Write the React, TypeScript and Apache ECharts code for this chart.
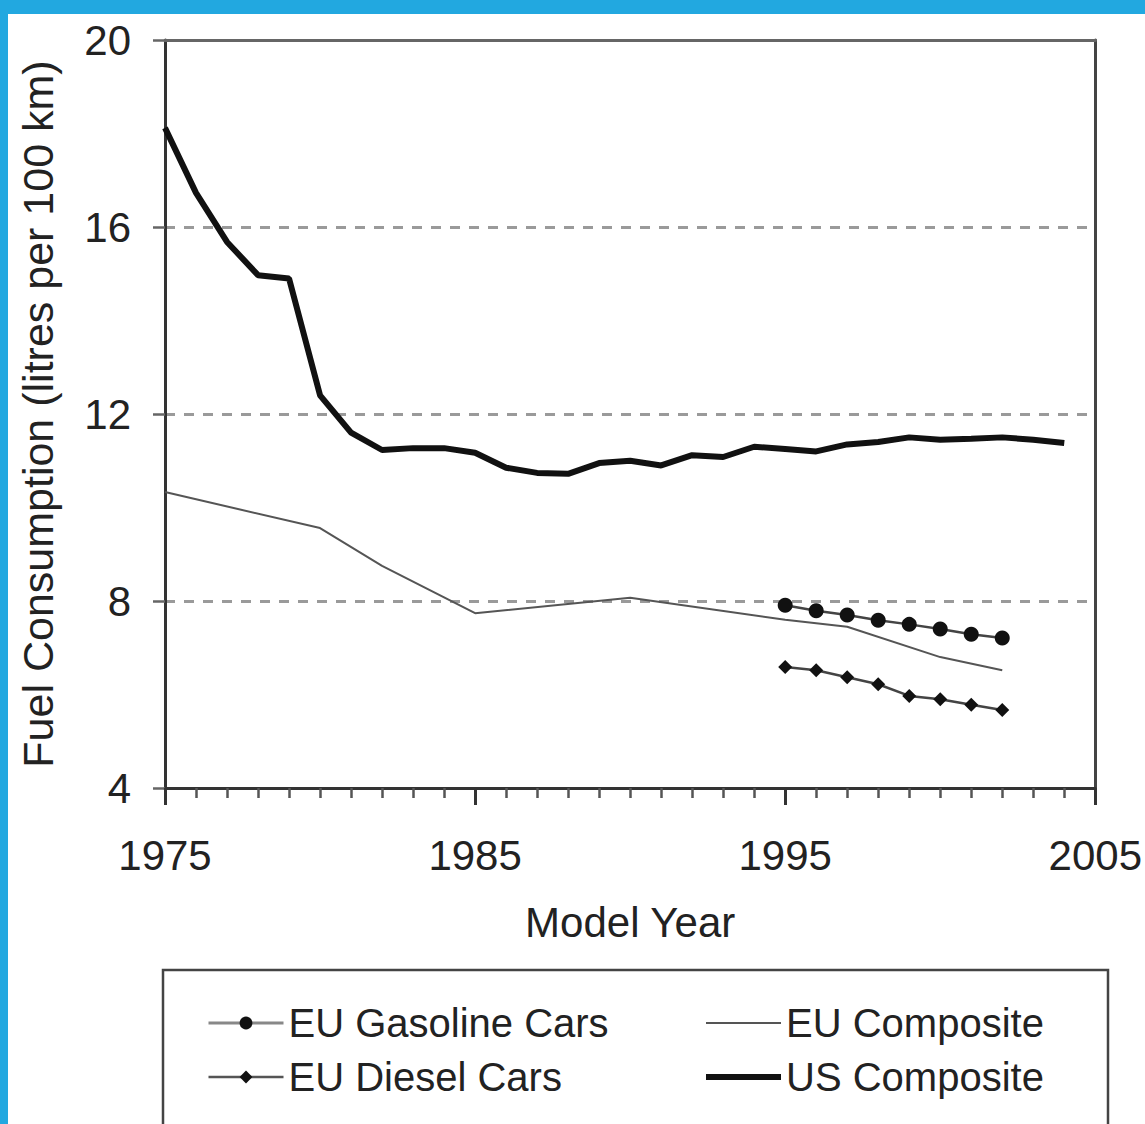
import React, { useEffect, useRef } from "react";
import * as echarts from "echarts";

const usYears = [1975, 1976, 1977, 1978, 1979, 1980, 1981, 1982, 1983, 1984, 1985, 1986, 1987, 1988, 1989, 1990, 1991, 1992, 1993, 1994, 1995, 1996, 1997, 1998, 1999, 2000, 2001, 2002, 2003, 2004];
const usValues = [18.12, 16.73, 15.68, 14.97, 14.9, 12.4, 11.6, 11.23, 11.27, 11.27, 11.17, 10.85, 10.74, 10.72, 10.95, 11.0, 10.9, 11.12, 11.08, 11.3, 11.25, 11.2, 11.35, 11.4, 11.5, 11.45, 11.47, 11.5, 11.45, 11.38];

const euCompYears = [1975, 1980, 1982, 1985, 1990, 1995, 1997, 2000, 2002];
const euCompValues = [10.33, 9.56, 8.75, 7.74, 8.07, 7.6, 7.45, 6.8, 6.52];

const euCarYears = [1995, 1996, 1997, 1998, 1999, 2000, 2001, 2002];
const gasolineValues = [7.91, 7.79, 7.7, 7.59, 7.5, 7.4, 7.29, 7.21];
const dieselValues = [6.59, 6.52, 6.37, 6.22, 5.97, 5.9, 5.78, 5.67];

const yTicks = [4, 8, 12, 16, 20];
const xTicks = [1975, 1985, 1995, 2005];

const pair = (xs: number[], ys: number[]) => xs.map((x, i) => [x, ys[i]]);

const FONT = "'Liberation Sans', Arial, sans-serif";
const TXT = "#222";

export default function App() {
  const ref = useRef<HTMLDivElement>(null);
  useEffect(() => {
    if (!ref.current) return;
    const chart = echarts.init(ref.current, undefined, { renderer: "svg" });
    const legendText = { fontSize: 40, color: TXT, fontFamily: FONT, lineHeight: 42 };
    chart.setOption({
      animation: false,
      backgroundColor: "#22a8e0",
      textStyle: { fontFamily: FONT },
      graphic: [
        { type: "rect", z: -10, shape: { x: 8, y: 14, width: 1137, height: 1110 }, style: { fill: "#fff" } },
        { type: "rect", z: 1, shape: { x: 163, y: 970, width: 945, height: 170 }, style: { fill: "none", stroke: "#444", lineWidth: 2.5 } },
      ],
      grid: { left: 165, top: 40, right: 47, bottom: 336, containLabel: false },
      xAxis: [
        {
          type: "value",
          min: xTicks[0],
          max: xTicks[xTicks.length - 1],
          interval: 10,
          name: "Model Year",
          nameLocation: "middle",
          nameGap: 113,
          nameTextStyle: { fontSize: 42, color: TXT, fontFamily: FONT },
          axisLine: { show: true, onZero: false, lineStyle: { color: "#333", width: 3 } },
          axisTick: { show: true, length: 17, lineStyle: { color: "#333", width: 3 } },
          minorTick: { show: true, splitNumber: 10, length: 10, lineStyle: { color: "#555", width: 2.5 } },
          axisLabel: { fontSize: 42, color: TXT, margin: 46, fontFamily: FONT, formatter: (v: number) => String(v) },
          splitLine: { show: false },
        },
        {
          type: "value",
          position: "top",
          min: xTicks[0],
          max: xTicks[xTicks.length - 1],
          interval: 10,
          axisLine: { show: true, lineStyle: { color: "#666", width: 3 } },
          axisTick: { show: false },
          axisLabel: { show: false },
          splitLine: { show: false },
        },
      ],
      yAxis: [
        {
          type: "value",
          min: yTicks[0],
          max: yTicks[yTicks.length - 1],
          interval: 4,
          name: "Fuel Consumption (litres per 100 km)",
          nameLocation: "middle",
          nameGap: 106,
          nameTextStyle: { fontSize: 43, color: TXT, fontFamily: FONT },
          axisLine: { show: true, lineStyle: { color: "#333", width: 3 } },
          axisTick: { show: true, length: 12, lineStyle: { color: "#666", width: 2.5 } },
          axisLabel: { fontSize: 42, color: TXT, margin: 34, fontFamily: FONT },
          splitLine: { show: true, lineStyle: { color: "#9a9a9a", width: 3, type: [10, 9] } },
        },
        {
          type: "value",
          position: "right",
          min: yTicks[0],
          max: yTicks[yTicks.length - 1],
          interval: 4,
          axisLine: { show: true, lineStyle: { color: "#444", width: 3 } },
          axisTick: { show: false },
          axisLabel: { show: false },
          splitLine: { show: false },
        },
      ],
      legend: [
        {
          orient: "vertical",
          left: 202,
          top: 997,
          itemWidth: 75,
          itemHeight: 16,
          itemGap: 12,
          textStyle: legendText,
          data: [
            { name: "EU Gasoline Cars", lineStyle: { color: "#888", width: 3 } },
            { name: "EU Diesel Cars", lineStyle: { color: "#555", width: 2.5 } },
          ],
        },
        {
          orient: "vertical",
          left: 698,
          top: 997,
          itemWidth: 75,
          itemHeight: 16,
          itemGap: 12,
          textStyle: legendText,
          data: [
            { name: "EU Composite", itemStyle: { opacity: 0 }, lineStyle: { color: "#555", width: 2 } },
            { name: "US Composite", itemStyle: { opacity: 0 }, lineStyle: { color: "#111", width: 6 } },
          ],
        },
      ],
      series: [
        {
          name: "US Composite",
          type: "line",
          data: pair(usYears, usValues),
          showSymbol: false,
          symbol: "none",
          lineStyle: { color: "#111", width: 6 },
          itemStyle: { color: "#111" },
          z: 3,
        },
        {
          name: "EU Composite",
          type: "line",
          data: pair(euCompYears, euCompValues),
          showSymbol: false,
          symbol: "none",
          lineStyle: { color: "#555", width: 2 },
          itemStyle: { color: "#555" },
          z: 3,
        },
        {
          name: "EU Gasoline Cars",
          type: "line",
          data: pair(euCarYears, gasolineValues),
          symbol: "circle",
          symbolSize: 15,
          lineStyle: { color: "#444", width: 2.5 },
          itemStyle: { color: "#111" },
          z: 4,
        },
        {
          name: "EU Diesel Cars",
          type: "line",
          data: pair(euCarYears, dieselValues),
          symbol: "diamond",
          symbolSize: 14,
          lineStyle: { color: "#444", width: 2.5 },
          itemStyle: { color: "#111" },
          z: 4,
        },
      ],
    });
    return () => chart.dispose();
  }, []);
  return (
    <div
      ref={ref}
      style={{ position: "fixed", left: 0, top: 0, width: 1145, height: 1124 }}
    />
  );
}
